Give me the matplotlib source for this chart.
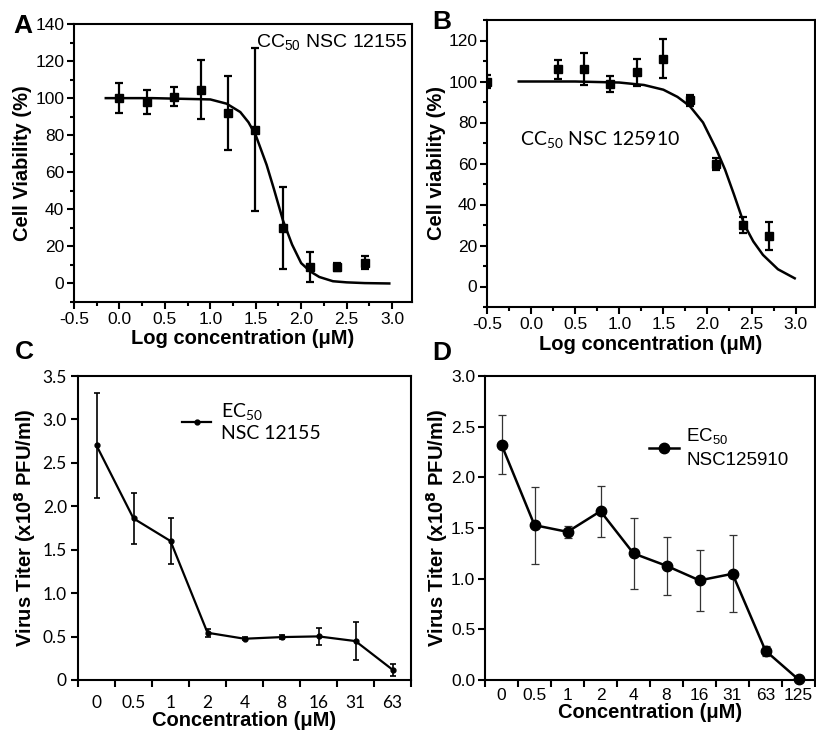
import numpy as np
import matplotlib
matplotlib.use("Agg")
import matplotlib.pyplot as plt
from matplotlib.ticker import MultipleLocator, FixedLocator
from matplotlib.lines import Line2D

# ---------------- data ----------------
# Panel A (CC50 NSC 12155)
a_x = [0.0, 0.30, 0.60, 0.90, 1.20, 1.49, 1.80, 2.10, 2.40, 2.70]
a_y = [100, 97.7, 100.8, 104.6, 91.8, 83, 30, 9, 8.8, 11.3]
a_err = [8, 6.5, 5.3, 16, 20, 44, 22, 8, 2, 3.7]
a_fit_x = [-0.15, 0.36, 1.0, 1.18, 1.33, 1.42, 1.5, 1.56, 1.62, 1.70, 1.80,
           1.90, 2.0, 2.1, 2.2, 2.35, 2.5, 2.7, 2.97]
a_fit_y = [100, 100, 99.3, 97, 92.5, 87, 80, 72, 64, 51, 34,
           21, 11, 6.5, 3.5, 1.2, 0.6, 0.2, 0]

# Panel B (CC50 NSC 125910)
b_x = [-0.5, 0.30, 0.60, 0.90, 1.20, 1.50, 1.80, 2.10, 2.40, 2.70]
b_y = [100, 106, 106, 98.9, 104.4, 111.2, 90.8, 59.7, 30, 24.6]
b_err = [3, 4.6, 7.8, 3.8, 6.8, 9.7, 2.6, 2.8, 4, 6.9]
b_fit_x = [-0.14, 0.5, 1.0, 1.28, 1.5, 1.66, 1.8, 1.95, 2.1, 2.2, 2.3,
           2.42, 2.52, 2.63, 2.8, 2.99]
b_fit_y = [100, 100, 99.5, 98.3, 96, 92.5, 88, 80, 67, 57, 45,
           30, 22, 15.4, 8.4, 4]

# Panel C (EC50 NSC 12155)
c_labels = ["0", "0.5", "1", "2", "4", "8", "16", "31", "63"]
c_y = [2.70, 1.86, 1.60, 0.544, 0.475, 0.494, 0.502, 0.448, 0.119]
c_err = [0.61, 0.29, 0.26, 0.045, 0.02, 0.025, 0.10, 0.215, 0.07]

# Panel D (EC50 NSC125910)
d_labels = ["0", "0.5", "1", "2", "4", "8", "16", "31", "63", "125"]
d_y = [2.323, 1.528, 1.462, 1.666, 1.249, 1.127, 0.983, 1.048, 0.289, 0.005]
d_err = [0.29, 0.38, 0.06, 0.25, 0.35, 0.285, 0.30, 0.38, 0.05, 0.0]

# ---------------- styling ----------------
ARIAL = "Liberation Sans"
CALIBRI = ["Lato", "DejaVu Sans"]
plt.rcParams["font.family"] = [ARIAL, "DejaVu Sans"]
plt.rcParams["mathtext.default"] = "regular"
plt.rcParams["axes.linewidth"] = 1.5

LABEL_FS = 14.5
TICK_FS = 12.5

fig = plt.figure(figsize=(8.16, 7.35), dpi=100)
W, H = 816, 735


def add_ax(l, t, r, b):
    return fig.add_axes([l / W, 1 - b / H, (r - l) / W, (b - t) / H])


axA = add_ax(74, 24, 412, 302)
axB = add_ax(487, 20, 815, 307)
axC = add_ax(78, 376, 411, 680)
axD = add_ax(485, 376, 815, 680)

tick_kw = dict(direction="out", width=1.5, length=5, labelsize=TICK_FS, pad=2)


def style_dose(ax, ymax, ymajor):
    ax.set_xlim(-0.5, 3.22)
    ax.set_ylim(-10, ymax)
    ax.xaxis.set_major_locator(MultipleLocator(0.5))
    ax.xaxis.set_minor_locator(MultipleLocator(0.25))
    ax.yaxis.set_major_locator(MultipleLocator(ymajor))
    ax.yaxis.set_minor_locator(MultipleLocator(ymajor / 2))
    ax.set_xticks([-0.5, 0, 0.5, 1.0, 1.5, 2.0, 2.5, 3.0])
    ax.set_xticklabels(["-0.5", "0.0", "0.5", "1.0", "1.5", "2.0", "2.5", "3.0"])
    ax.tick_params(which="major", top=False, right=False, **tick_kw)
    ax.tick_params(which="minor", direction="out", width=1.5, length=3,
                   top=False, right=False)
    ax.set_xlabel("Log concentration (\u03bcM)", fontsize=LABEL_FS,
                  fontweight="bold", labelpad=2)


# Panel A
axA.plot(a_fit_x, a_fit_y, color="black", lw=1.8, zorder=2)
axA.errorbar(a_x, a_y, yerr=a_err, fmt="s", color="black", ms=5.5,
             elinewidth=1.6, capsize=3, capthick=1.6, zorder=3)
style_dose(axA, 140, 20)
axA.set_ylabel("Cell Viability (%)", fontsize=LABEL_FS, fontweight="bold",
               labelpad=2)
axA.text(0.537, 0.935, "CC$_{50}$ NSC 12155", transform=axA.transAxes,
         fontsize=14, ha="left", va="center")

# Panel B
axB.plot(b_fit_x, b_fit_y, color="black", lw=1.8, zorder=2)
axB.errorbar(b_x, b_y, yerr=b_err, fmt="s", color="black", ms=5.5,
             elinewidth=1.6, capsize=3, capthick=1.6, zorder=3, clip_on=True)
style_dose(axB, 130, 20)
axB.set_ylabel("Cell viability (%)", fontsize=LABEL_FS, fontweight="bold",
               labelpad=2)
axB.text(0.10, 0.582, "CC$_{50}$ NSC 125910", transform=axB.transAxes,
         fontsize=14, ha="left", va="center", family=CALIBRI)

# Panel C
cx = np.arange(len(c_labels))
axC.errorbar(cx, c_y, yerr=c_err, fmt="-o", color="black", ms=3.5, lw=1.6,
             elinewidth=1.2, capsize=2.5, capthick=1.2)
axC.set_xlim(-0.5, len(c_labels) - 0.5)
axC.set_ylim(0, 3.5)
axC.xaxis.set_major_locator(FixedLocator(np.arange(-0.5, len(c_labels), 1.0)))
axC.xaxis.set_major_formatter(plt.NullFormatter())
axC.set_xticks(cx, minor=True)
axC.set_xticklabels(c_labels, minor=True, family=CALIBRI, fontsize=TICK_FS)
axC.tick_params(axis="x", which="minor", length=0, pad=11)
axC.tick_params(axis="x", which="major", direction="out", width=1.5,
                length=5)
axC.set_yticks([0, 0.5, 1.0, 1.5, 2.0, 2.5, 3.0, 3.5])
axC.set_yticklabels(["0", "0.5", "1.0", "1.5", "2.0", "2.5", "3.0", "3.5"],
                    family=CALIBRI, fontsize=TICK_FS)
axC.tick_params(axis="y", direction="out", width=1.5, length=5, pad=3)
axC.tick_params(top=False, right=False)
axC.set_xlabel("Concentration (\u03bcM)", fontsize=LABEL_FS, fontweight="bold",
               labelpad=0)
axC.set_ylabel("Virus Titer (x10$^{\\mathbf{8}}$ PFU/ml)", fontsize=LABEL_FS,
               fontweight="bold", labelpad=3)
hC = Line2D([], [], color="black", marker="o", ms=3.5, lw=1.6)
axC.legend([hC], ["EC$_{50}$\nNSC 12155"], loc="upper left",
           bbox_to_anchor=(0.26, 0.975), frameon=False,
           prop={"family": CALIBRI, "size": 14}, handlelength=1.5,
           handletextpad=0.5)

# Panel D
dx = np.arange(len(d_labels))
axD.errorbar(dx, d_y, yerr=d_err, fmt="none", ecolor="#333333",
             elinewidth=0.9, capsize=3, capthick=0.9, zorder=2)
axD.plot(dx, d_y, "-o", color="black", ms=7.5, lw=1.8, zorder=3,
         clip_on=False)
axD.set_xlim(-0.5, len(d_labels) - 0.5)
axD.set_ylim(0, 3.0)
axD.xaxis.set_major_locator(FixedLocator(np.arange(-0.5, len(d_labels), 1.0)))
axD.xaxis.set_major_formatter(plt.NullFormatter())
axD.set_xticks(dx, minor=True)
axD.set_xticklabels(d_labels, minor=True, fontsize=TICK_FS)
axD.tick_params(axis="x", which="minor", length=0, pad=6)
axD.tick_params(axis="x", which="major", direction="out", width=1.5,
                length=5)
axD.set_yticks([0, 0.5, 1.0, 1.5, 2.0, 2.5, 3.0])
axD.set_yticklabels(["0.0", "0.5", "1.0", "1.5", "2.0", "2.5", "3.0"],
                    fontsize=TICK_FS)
axD.tick_params(axis="y", direction="out", width=1.5, length=5, pad=2)
axD.tick_params(top=False, right=False)
axD.set_xlabel("Concentration (\u03bcM)", fontsize=LABEL_FS, fontweight="bold",
               labelpad=0)
axD.set_ylabel("Virus Titer (x10$^{\\mathbf{8}}$ PFU/ml)", fontsize=LABEL_FS,
               fontweight="bold", labelpad=1)
hD = Line2D([], [], color="black", marker="o", ms=7.5, lw=1.8)
legD = axD.legend([hD], ["EC$_{50}$\nNSC125910"], loc="upper left",
                  bbox_to_anchor=(0.445, 0.89), frameon=False,
                  prop={"size": 13.5}, handlelength=1.6, handletextpad=0.4)
for t in legD.get_texts():
    t.set_linespacing(1.45)

# Panel letters
for letter, (px, py) in {"A": (23, 26), "B": (442, 22),
                         "C": (24, 352), "D": (442, 353)}.items():
    fig.text(px / W, 1 - py / H, letter, fontsize=19, fontweight="bold",
             ha="center", va="center")

fig.savefig("out.png", dpi=100)
